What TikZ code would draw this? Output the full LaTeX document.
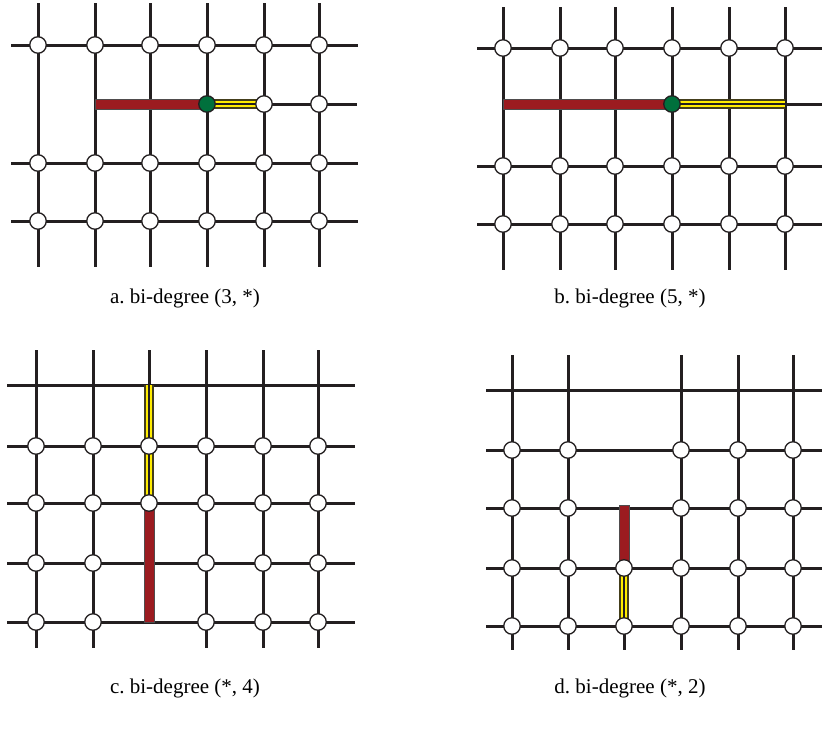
\documentclass[tikz,border=0pt]{standalone}
\usepackage{fontspec}
\setmainfont{Liberation Serif}
\frenchspacing
\definecolor{gridc}{RGB}{35,31,32}
\definecolor{redc}{RGB}{155,27,32}
\definecolor{yelc}{RGB}{255,236,0}
\definecolor{grnc}{RGB}{0,112,60}
\begin{document}
\begin{tikzpicture}[x=1pt,y=-1pt,
  grid/.style={line width=3pt, draw=gridc},
  vtx/.style={circle, draw=gridc, fill=white, line width=1.3pt, minimum size=16.5pt, inner sep=0pt},
  gvtx/.style={vtx, fill=grnc},
  redbar/.style={fill=redc, draw=gridc!80, line width=0.8pt},
  ybar/.style={draw=gridc!85!yelc, double=yelc, double distance=6.5pt, line width=1.3pt},
  ymid/.style={draw=gridc, line width=1.8pt},
  lbl/.style={font=\fontsize{21}{25}\selectfont, inner sep=0pt}]
\useasboundingbox (0,0) rectangle (822,731);

% ---------------- panel a ----------------
\foreach \x in {38,95,150,207,264,319} \draw[grid] (\x,3) -- (\x,267);
\foreach \y in {45,163,221} \draw[grid] (11,\y) -- (358,\y);
\draw[grid] (95,104) -- (357,104);
\fill[redbar] (95,99) rectangle (207,109);
\draw[ybar] (207,104) -- (264,104);
\draw[ymid] (207,104) -- (264,104);
\foreach \x [count=\i] in {38,95,150,207,264,319} {
  \node[vtx] (a-1-\i) at (\x,45) {};
  \node[vtx] (a-3-\i) at (\x,163) {};
  \node[vtx] (a-4-\i) at (\x,221) {};
}
\node[gvtx] (a-2-4) at (207,104) {};
\node[vtx] (a-2-5) at (264,104) {};
\node[vtx] (a-2-6) at (319,104) {};
\node[lbl] (la) at (185,298) {a. bi-degree (3, *)};

% ---------------- panel b ----------------
\foreach \x in {503,560,615,672,729,785} \draw[grid] (\x,7) -- (\x,270);
\foreach \y in {48,166,224} \draw[grid] (477,\y) -- (822,\y);
\draw[grid] (503,104) -- (822,104);
\fill[redbar] (503,99) rectangle (672,109);
\draw[ybar] (672,104) -- (785,104);
\draw[ymid] (672,104) -- (785,104);
\foreach \x [count=\i] in {503,560,615,672,729,785} {
  \node[vtx] (b-1-\i) at (\x,48) {};
  \node[vtx] (b-3-\i) at (\x,166) {};
  \node[vtx] (b-4-\i) at (\x,224) {};
}
\node[gvtx] (b-2-4) at (672,104) {};
\node[lbl] (lb) at (630,298) {b. bi-degree (5, *)};

% ---------------- panel c ----------------
\foreach \x in {36,93,206,263,318} \draw[grid] (\x,350) -- (\x,648);
\draw[grid] (149,350) -- (149,385);
\foreach \y in {385,446,503,563,622} \draw[grid] (7,\y) -- (355,\y);
\draw[ybar] (149,385) -- (149,503);
\draw[ymid] (149,385) -- (149,503);
\fill[redbar] (144,503) rectangle (154,622);
\foreach \y [count=\j from 2] in {446,503,563,622} {
  \foreach \x [count=\i] in {36,93,149,206,263,318} {
    \ifnum\j>3 \ifnum\i=3 \else \node[vtx] (c-\j-\i) at (\x,\y) {}; \fi
    \else \node[vtx] (c-\j-\i) at (\x,\y) {}; \fi
  }
}
\node[lbl] (lc) at (185,688) {c. bi-degree (*, 4)};

% ---------------- panel d ----------------
\foreach \x in {512,568,681,738,793} \draw[grid] (\x,355) -- (\x,650);
\draw[grid] (624,626) -- (624,650);
\foreach \y in {390,450,508,568,626} \draw[grid] (486,\y) -- (822,\y);
\fill[redbar] (619,505) rectangle (629,568);
\draw[ybar] (624,568) -- (624,626);
\draw[ymid] (624,568) -- (624,626);
\foreach \x [count=\i] in {512,568,624,681,738,793} {
  \node[vtx] (d-4-\i) at (\x,568) {};
  \node[vtx] (d-5-\i) at (\x,626) {};
}
\foreach \x [count=\i] in {512,568,681,738,793} {
  \node[vtx] (d-2-\i) at (\x,450) {};
  \node[vtx] (d-3-\i) at (\x,508) {};
}
\node[lbl] (ld) at (630,688) {d. bi-degree (*, 2)};
\end{tikzpicture}
\end{document}
